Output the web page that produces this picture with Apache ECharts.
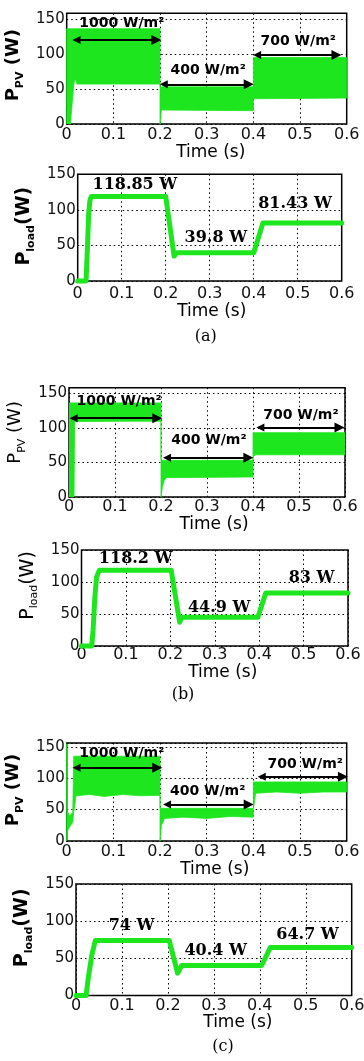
<!DOCTYPE html>
<html>
<head>
<meta charset="utf-8">
<script src="https://cdn.jsdelivr.net/npm/echarts@6/dist/echarts.min.js"></script>
<style>
  html, body { margin: 0; padding: 0; background: #fff; }
  #chart { width: 364px; height: 1061px; }
</style>
</head>
<body>
<div id="chart"></div>
<script>
// ---- Simulated PV output: oscillation envelope (time s, lower W, upper W) ----
const pvA_t  = [0, 0.008, 0.013, 0.016, 0.019, 0.022, 0.2, 0.2, 0.203, 0.4, 0.4, 0.6];
const pvA_lo = [0, 0, 40, 60, 64, 57, 57, 0, 20, 19, 36, 37];
const pvA_hi = [136, 136, 136, 136, 136, 136, 136, 54, 53, 53, 95, 95];

const pvB_t  = [0, 0.011, 0.012, 0.2, 0.2, 0.203, 0.207, 0.212, 0.4, 0.4, 0.405, 0.6];
const pvB_lo = [0, 0, 109, 110, 0, 14, 24, 28, 29, 58, 61, 61];
const pvB_hi = [136, 136, 136, 136, 54, 53, 53, 53, 53, 93, 93, 93];

const pvC_t  = [0, 0.001, 0.006, 0.013, 0.015, 0.02, 0.05, 0.08, 0.12, 0.16, 0.2, 0.2, 0.203, 0.21, 0.25, 0.3, 0.35, 0.4, 0.4, 0.405, 0.45, 0.5, 0.55, 0.6];
const pvC_lo = [0, 15, 22, 30, 45, 72, 74, 71, 74, 72, 73, 0, 25, 36, 38, 36, 39, 38, 50, 76, 78, 76, 78, 78];
const pvC_hi = [155, 48, 40, 45, 135, 135, 135, 135, 135, 135, 135, 52, 52, 52, 52, 52, 52, 52, 94, 94, 94, 94, 94, 94];

// ---- Load power (steady levels per irradiance step) ----
const loadA_levels = [118.85, 39.8, 81.43];
const loadB_levels = [118.2, 44.9, 83];
const loadC_levels = [74, 40.4, 64.7];

const loadA_t = [0, 0.019, 0.022, 0.025, 0.028, 0.031, 0.2, 0.219, 0.225, 0.4, 0.421, 0.6];
const loadA_p = [0, 0, 45, 95, 114, loadA_levels[0], loadA_levels[0], 35, loadA_levels[1], loadA_levels[1], loadA_levels[2], loadA_levels[2]];

const loadB_t = [0, 0.023, 0.026, 0.030, 0.034, 0.04, 0.202, 0.221, 0.226, 0.397, 0.415, 0.6];
const loadB_p = [0, 0, 24, 76, 108, loadB_levels[0], loadB_levels[0], 37, loadB_levels[1], loadB_levels[1], loadB_levels[2], loadB_levels[2]];

const loadC_t = [0, 0.022, 0.027, 0.0345, 0.042, 0.203, 0.221, 0.23, 0.404, 0.423, 0.6];
const loadC_p = [0, 0, 25, 54.5, loadC_levels[0], loadC_levels[0], 30, loadC_levels[1], loadC_levels[1], loadC_levels[2], loadC_levels[2]];

// irradiance steps
const irradiance = ['1000 W/m²', '400 W/m²', '700 W/m²'];

// axis ticks
const tMax = 0.6, tStep = 0.1, pStep = 50;

// ---- styling / layout ----
const GREEN = '#1ee61e';
const SANS = 'DejaVu Sans';
const SERIF = 'DejaVu Serif';

const panels = [
  { kind: 'pv', grid: { left: 66.7, top: 13.3, width: 280, height: 110.7 }, yMax: 158,
    band: [pvA_t, pvA_lo, pvA_hi], bold: true, nameGap: 33, namePad: 7,
    xNameGap: 17.5, xNamePad: 8, xLabelMargin: 3,
    notePos: [[0.118, 143], [0.303, 76], [0.496, 117.6]],
    arrows: [[0.021, 0.192, 120], [0.208, 0.39, 56.7], [0.408, 0.578, 98.6]] },
  { kind: 'load', grid: { left: 77.7, top: 174.3, width: 264, height: 106.7 }, yMax: 150,
    line: [loadA_t, loadA_p], levels: loadA_levels, bold: true, nameGap: 36, namePad: 3,
    xNameGap: 17.5, xNamePad: 4, xLabelMargin: 5,
    notePos: [[0.130, 135], [0.314, 60], [0.494, 109]] },
  { kind: 'pv', grid: { left: 69, top: 387.7, width: 276, height: 109.3 }, yMax: 158,
    band: [pvB_t, pvB_lo, pvB_hi], bold: false, nameGap: 36.6, namePad: 20,
    xNameGap: 19.5, xNamePad: 14, xLabelMargin: 2,
    notePos: [[0.109, 137.9], [0.304, 82.5], [0.504, 118.7]],
    arrows: [[0.010, 0.192, 113.9], [0.213, 0.39, 56.9], [0.416, 0.588, 100.3]] },
  { kind: 'load', grid: { left: 81.5, top: 550, width: 266.5, height: 96 }, yMax: 150,
    line: [loadB_t, loadB_p], levels: loadB_levels, bold: false, nameGap: 33, namePad: 25,
    xNameGap: 12.5, xNamePad: 16, xLabelMargin: 1,
    notePos: [[0.122, 135.5], [0.31, 58.9], [0.518, 105.8]] },
  { kind: 'pv', grid: { left: 66.7, top: 743, width: 280, height: 98 }, yMax: 156,
    band: [pvC_t, pvC_lo, pvC_hi], bold: true, nameGap: 33, namePad: 4,
    xNameGap: 14, xNamePad: 16, xLabelMargin: 3,
    notePos: [[0.118, 139.4], [0.302, 78.4], [0.511, 121.9]],
    arrows: [[0.021, 0.194, 116.5], [0.215, 0.39, 58.3], [0.418, 0.592, 102.2]] },
  { kind: 'load', grid: { left: 76, top: 884, width: 275.7, height: 111.5 }, yMax: 150,
    line: [loadC_t, loadC_p], levels: loadC_levels, bold: true, nameGap: 37, namePad: 24,
    xNameGap: 16, xNamePad: 48, xLabelMargin: 2,
    notePos: [[0.121, 93.5], [0.304, 60.3], [0.504, 81.4]] }
];

const captions = [
  { text: '(a)', x: 205.8, y: 336.7 },
  { text: '(b)', x: 183, y: 695 },
  { text: '(c)', x: 223, y: 1046.7 }
];

const dotted = { color: '#000', width: 1, type: [1.5, 3] };

function yName(kind) {
  const sub = kind === 'pv' ? 'PV' : 'load';
  const gap = kind === 'pv' ? ' (W)' : '(W)';
  return '{m|P}{s|' + sub + '}{m|' + gap + '}';
}

const grids = [], xAxes = [], yAxes = [], series = [];

panels.forEach((p, i) => {
  grids.push(Object.assign({
    show: true, borderColor: '#000', borderWidth: 1.5,
    backgroundColor: 'transparent', containLabel: false, outerBoundsMode: 'none'
  }, p.grid));

  xAxes.push({
    type: 'value', gridIndex: i, min: 0, max: tMax, interval: tStep,
    axisLine: { show: false }, axisTick: { show: false },
    axisLabel: {
      margin: p.xLabelMargin, color: '#111', fontFamily: SANS, fontSize: 16,
      formatter: v => String(+v.toFixed(1))
    },
    splitLine: { show: true, lineStyle: dotted },
    name: 'Time (s)', nameLocation: 'middle', nameGap: p.xNameGap,
    nameTextStyle: { fontFamily: SANS, fontSize: 17, color: '#000', padding: [0, 0, 0, p.xNamePad] }
  });

  const w = p.bold ? 'bold' : 'normal';
  const mainSize = p.kind === 'pv' ? 18 : 19;
  yAxes.push({
    type: 'value', gridIndex: i, min: 0, max: p.yMax, interval: pStep,
    axisLine: { show: false }, axisTick: { show: false },
    axisLabel: {
      margin: 2, color: '#111', fontFamily: SANS, fontSize: 15,
      showMaxLabel: p.yMax % pStep === 0
    },
    splitLine: { show: true, lineStyle: dotted },
    name: yName(p.kind), nameLocation: 'middle', nameRotate: 90, nameGap: p.nameGap,
    nameTextStyle: {
      color: '#000', padding: [0, 0, 0, p.namePad],
      rich: {
        m: { fontFamily: SANS, fontSize: mainSize, fontWeight: w, lineHeight: 24, color: '#000' },
        s: { fontFamily: SANS, fontSize: 11, fontWeight: w, lineHeight: 11, verticalAlign: 'bottom', color: '#000' }
      }
    }
  });

  if (p.kind === 'pv') {
    const [t, lo, hi] = p.band;
    series.push({
      type: 'custom', xAxisIndex: i, yAxisIndex: i, silent: true, clip: true,
      data: t.map((tt, k) => [tt, lo[k], hi[k]]),
      encode: { x: 0, y: [1, 2] },
      renderItem: (params, api) => {
        if (params.dataIndex !== 0) return null;
        const pts = [];
        for (let k = 0; k < t.length; k++) pts.push(api.coord([t[k], hi[k]]));
        for (let k = t.length - 1; k >= 0; k--) pts.push(api.coord([t[k], lo[k]]));
        return { type: 'polygon', shape: { points: pts },
                 style: { fill: GREEN, stroke: GREEN, lineWidth: 0.8 } };
      }
    });
    series.push({
      type: 'lines', coordinateSystem: 'cartesian2d', xAxisIndex: i, yAxisIndex: i,
      silent: true, symbol: ['triangle', 'triangle'], symbolSize: [8, 10],
      lineStyle: { color: '#000', width: 2, opacity: 1, curveness: 0 },
      data: p.arrows.map(a => ({ coords: [[a[0], a[2]], [a[1], a[2]]] })),
      z: 4
    });
    series.push({
      type: 'scatter', xAxisIndex: i, yAxisIndex: i, silent: true, symbolSize: 1,
      itemStyle: { color: 'rgba(0,0,0,0)' }, z: 5,
      label: { show: true, position: 'inside', color: '#000', opacity: 1, textBorderWidth: 0,
               fontFamily: SANS, fontWeight: 'bold', fontSize: 14 },
      data: p.notePos.map((pos, k) => ({ value: pos, label: { formatter: irradiance[k] } }))
    });
  } else {
    const [t, pw] = p.line;
    series.push({
      type: 'line', xAxisIndex: i, yAxisIndex: i, silent: true, clip: false,
      showSymbol: false, symbol: 'none',
      lineStyle: { color: GREEN, width: 5, join: 'round', cap: 'round' },
      data: t.map((tt, k) => [tt, pw[k]])
    });
    series.push({
      type: 'scatter', xAxisIndex: i, yAxisIndex: i, silent: true, symbolSize: 1,
      itemStyle: { color: 'rgba(0,0,0,0)' }, z: 5,
      label: { show: true, position: 'inside', color: '#000', opacity: 1, textBorderWidth: 0,
               fontFamily: SERIF, fontWeight: 'bold', fontSize: 16 },
      data: p.notePos.map((pos, k) => ({ value: pos, label: { formatter: p.levels[k] + ' W' } }))
    });
  }
});

const chart = echarts.init(document.getElementById('chart'), null, { renderer: 'canvas' });
chart.setOption({
  backgroundColor: '#fff',
  animation: false,
  grid: grids,
  xAxis: xAxes,
  yAxis: yAxes,
  series: series,
  graphic: captions.map(c => ({
    type: 'text', x: c.x, y: c.y, silent: true,
    style: { text: c.text, fontFamily: SERIF, fontSize: 16, fill: '#000', align: 'center', verticalAlign: 'middle' }
  }))
});
</script>
</body>
</html>
